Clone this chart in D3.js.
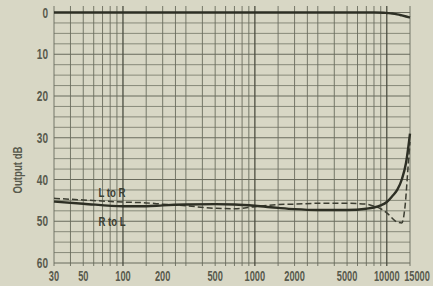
<!DOCTYPE html>
<html>
<head>
<meta charset="utf-8">
<script src="https://cdn.jsdelivr.net/npm/d3@7/dist/d3.min.js"></script>
<style>
  html, body { margin: 0; padding: 0; background: #d8d7c5; }
  svg { display: block; }
  .lbl { font-family: "Liberation Sans", Arial, sans-serif; font-weight: bold; }
</style>
</head>
<body>
<div class="chart"></div>
<script>
// axis labels
const freqTicks = [30, 50, 100, 200, 500, 1000, 2000, 5000, 10000, 15000];
const dbTicks = [0, 10, 20, 30, 40, 50, 60];
// vertical rulings of the paper
const gridFreqs = [30, 40, 50, 60, 70, 80, 90, 100, 150, 200, 250, 300, 400, 500, 600, 700, 800, 900,
    1000, 1500, 2000, 2500, 3000, 4000, 5000, 6000, 7000, 8000, 9000, 10000, 15000];

// main output (0 dB line)
const outFreq = [30, 1000, 8000, 9500, 10000, 11000, 12000, 13000, 14000, 15000];
const outDb = [0, 0, 0, 0.05, 0.12, 0.25, 0.45, 0.7, 0.95, 1.2];

// R to L crosstalk (solid)
const rlFreq = [30, 50, 100, 150, 200, 300, 500, 700, 1000, 1500, 2000, 3000, 5000, 7000, 8000, 9000, 10000, 11000, 12000, 13000, 14000, 15000];
const rlDb = [45.3, 45.8, 46.4, 46.4, 46.2, 46.0, 45.9, 46.0, 46.3, 46.8, 47.1, 47.3, 47.3, 47.0, 46.7, 46.2, 45.4, 44.0, 42.5, 40.0, 36.0, 29.0];

// L to R crosstalk (dashed)
const lrFreq = [30, 50, 100, 150, 200, 300, 500, 700, 1000, 1500, 2000, 3000, 5000, 7000, 8000, 9000, 10000, 12000, 13000, 13800, 14500, 15000];
const lrDb = [44.5, 44.9, 45.4, 45.6, 45.9, 46.3, 46.9, 47.0, 46.5, 46.0, 45.9, 45.7, 45.7, 45.9, 46.4, 47.0, 48.0, 50.2, 50.4, 46.0, 37.0, 31.0];

const width = 433, height = 286;
const inkLight = '#7e8070', inkDark = '#5c5e50', ink = '#2d2f24';
const squeeze = 0.66; // condensed type of the original

const svg = d3.select('.chart')
    .append('svg')
    .attr('width', width)
    .attr('height', height);

const x = d3.scaleLog().domain([30, 15000]).range([54, 410]);
const y = d3.scaleLinear().domain([0, 60]).range([12.5, 263]);

const grid = svg.append('g');

// horizontal rulings every 2.5 dB
grid.selectAll('line.h')
    .data(d3.range(0, 60.01, 2.5))
    .enter()
    .append('line')
    .attr('x1', x(30)).attr('x2', x(15000))
    .attr('y1', d => y(d)).attr('y2', d => y(d))
    .attr('stroke', d => d % 10 === 0 ? inkDark : inkLight)
    .attr('stroke-width', 0.9);

const isDecade = d => [100, 1000, 10000].includes(d);
grid.selectAll('line.v')
    .data(gridFreqs)
    .enter()
    .append('line')
    .attr('x1', d => x(d)).attr('x2', d => x(d))
    .attr('y1', 6).attr('y2', 266)
    .attr('stroke', d => isDecade(d) ? '#4c4e41' : '#6a6c5e')
    .attr('stroke-width', d => isDecade(d) ? 1.3 : 0.9);

// tick labels
svg.selectAll('text.xt')
    .data(freqTicks)
    .enter()
    .append('text')
    .attr('class', 'lbl')
    .attr('transform', (d, i) => `translate(${x(d) + (i === freqTicks.length - 1 ? 7 : 0)},281) scale(${squeeze},1)`)
    .attr('text-anchor', 'middle')
    .attr('font-size', 14)
    .attr('fill', '#585a4d')
    .text(d => d);

svg.selectAll('text.yt')
    .data(dbTicks)
    .enter()
    .append('text')
    .attr('class', 'lbl')
    .attr('transform', d => `translate(48,${y(d) + 5}) scale(${squeeze + 0.06},1)`)
    .attr('text-anchor', 'end')
    .attr('font-size', 14)
    .attr('fill', '#585a4d')
    .text(d => d);

svg.append('text')
    .attr('class', 'lbl')
    .attr('transform', `translate(22,170) rotate(-90) scale(${squeeze + 0.08},1)`)
    .attr('text-anchor', 'middle')
    .attr('font-size', 13)
    .attr('fill', '#585a4d')
    .text('Output dB');

const line = d3.line()
    .x(d => x(d[0]))
    .y(d => y(d[1]))
    .curve(d3.curveMonotoneX);

svg.append('path')
    .attr('d', line(d3.zip(outFreq, outDb)))
    .attr('fill', 'none')
    .attr('stroke', ink)
    .attr('stroke-width', 2.4);

svg.append('path')
    .attr('d', line(d3.zip(lrFreq, lrDb)))
    .attr('fill', 'none')
    .attr('stroke', '#3c3e32')
    .attr('stroke-width', 1.5)
    .attr('stroke-dasharray', '6,3');

svg.append('path')
    .attr('d', line(d3.zip(rlFreq, rlDb)))
    .attr('fill', 'none')
    .attr('stroke', ink)
    .attr('stroke-width', 2.4);

svg.append('text')
    .attr('class', 'lbl')
    .attr('transform', `translate(112,197) scale(${squeeze + 0.08},1)`)
    .attr('text-anchor', 'middle')
    .attr('font-size', 13)
    .attr('fill', '#3c3e32')
    .text('L to R');

svg.append('text')
    .attr('class', 'lbl')
    .attr('transform', `translate(112,226) scale(${squeeze + 0.08},1)`)
    .attr('text-anchor', 'middle')
    .attr('font-size', 13)
    .attr('fill', '#3c3e32')
    .text('R to L');
</script>
</body>
</html>
